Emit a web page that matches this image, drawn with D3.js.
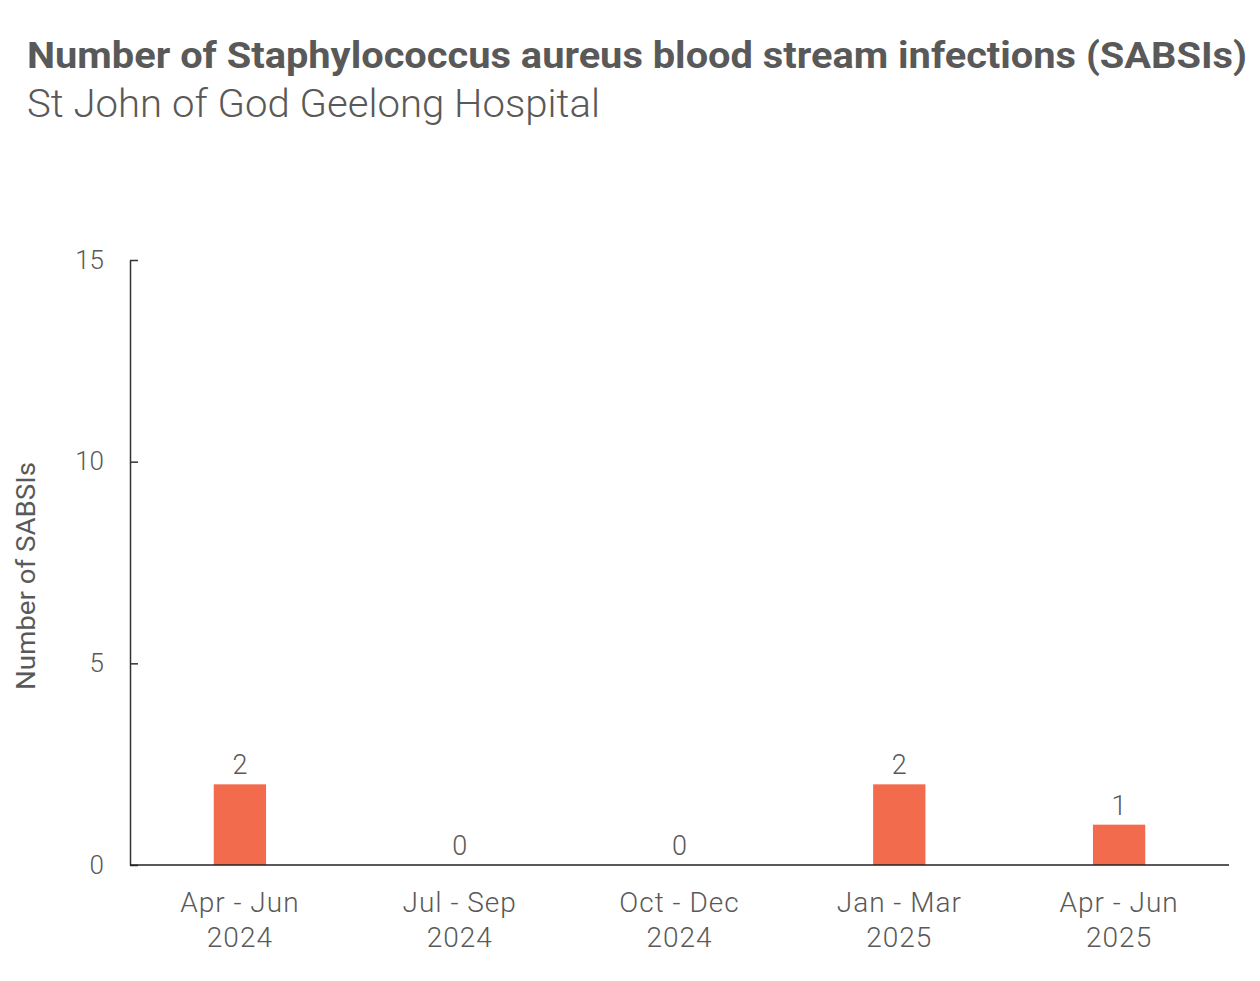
<!DOCTYPE html>
<meta charset="utf-8">
<head>
<style>
  body { margin: 0; background: #fff; }
  text { font-family: Roboto, "Noto Sans", sans-serif; fill: #595959; }
</style>
</head>
<body>
<script src="https://cdn.jsdelivr.net/npm/d3@7"></script>
<script>

// chart data
var quarters = ["Apr - Jun", "Jul - Sep", "Oct - Dec", "Jan - Mar", "Apr - Jun"];
var years = ["2024", "2024", "2024", "2025", "2025"];
var sabsis = [2, 0, 0, 2, 1];
var yTicks = [0, 5, 10, 15];

var width = 1260, height = 981;
var margin = {top: 260, right: 31, bottom: 116, left: 130};
var w = width - margin.left - margin.right,
    h = height - margin.top - margin.bottom;

var svg = d3.select("body").append("svg")
    .attr("width", width)
    .attr("height", height);

// titles
svg.append("text")
    .attr("x", 27).attr("y", 68)
    .attr("font-size", 37).attr("font-weight", 700)
    .attr("textLength", 1220).attr("lengthAdjust", "spacingAndGlyphs")
    .text("Number of Staphylococcus aureus blood stream infections (SABSIs)");

svg.append("text")
    .attr("x", 27).attr("y", 117)
    .attr("font-size", 38).attr("font-weight", 300)
    .attr("textLength", 573).attr("lengthAdjust", "spacingAndGlyphs")
    .text("St John of God Geelong Hospital");

var g = svg.append("g")
    .attr("transform", "translate(" + margin.left + "," + margin.top + ")");

var x = d3.scaleBand()
    .domain(d3.range(sabsis.length))
    .range([0, w])
    .paddingInner(0.762)
    .paddingOuter(0.381);

var y = d3.scaleLinear().domain([0, 15]).range([h, 0]);

// y axis
var yAxis = g.append("g")
    .call(d3.axisLeft(y).tickValues(yTicks).tickSize(-8).tickPadding(26).tickSizeOuter(0));
yAxis.select(".domain").attr("stroke", "#333").attr("stroke-width", 1.5);
yAxis.selectAll(".tick line").attr("stroke", "#333").attr("stroke-width", 1.5);
yAxis.selectAll(".tick text").attr("font-size", 26).attr("fill", "#595959")
    .attr("font-weight", 300).style("font-family", "Roboto");

// bars
g.selectAll("rect.bar")
    .data(sabsis)
    .enter().append("rect")
    .attr("class", "bar")
    .attr("x", function(d, i) { return x(i); })
    .attr("width", x.bandwidth())
    .attr("y", function(d) { return y(d); })
    .attr("height", function(d) { return h - y(d); })
    .attr("fill", "#F26B4D");

// value labels
g.selectAll("text.val")
    .data(sabsis)
    .enter().append("text")
    .attr("class", "val")
    .attr("x", function(d, i) { return x(i) + x.bandwidth() / 2; })
    .attr("y", function(d) { return y(d) - 10; })
    .attr("text-anchor", "middle")
    .attr("font-size", 27).attr("font-weight", 300)
    .text(function(d) { return d; });

// x axis line
g.append("line")
    .attr("x1", 0).attr("x2", w)
    .attr("y1", h).attr("y2", h)
    .attr("stroke", "#222").attr("stroke-width", 1.5);

// category labels
var cats = g.selectAll("text.cat")
    .data(quarters)
    .enter().append("text")
    .attr("class", "cat")
    .attr("text-anchor", "middle")
    .attr("font-size", 28).attr("font-weight", 300)
    .attr("letter-spacing", 1)
    .attr("transform", function(d, i) {
        return "translate(" + (x(i) + x.bandwidth() / 2) + "," + (h + 47) + ")";
    });
cats.append("tspan").attr("x", 0).attr("y", 0).text(function(d) { return d; });
cats.append("tspan").attr("x", 0).attr("y", 35).text(function(d, i) { return years[i]; });

// y axis title
svg.append("text")
    .attr("transform", "translate(35,576) rotate(-90)")
    .attr("text-anchor", "middle")
    .attr("font-size", 25)
    .attr("textLength", 228).attr("lengthAdjust", "spacingAndGlyphs")
    .text("Number of SABSIs");

</script>
</body>
